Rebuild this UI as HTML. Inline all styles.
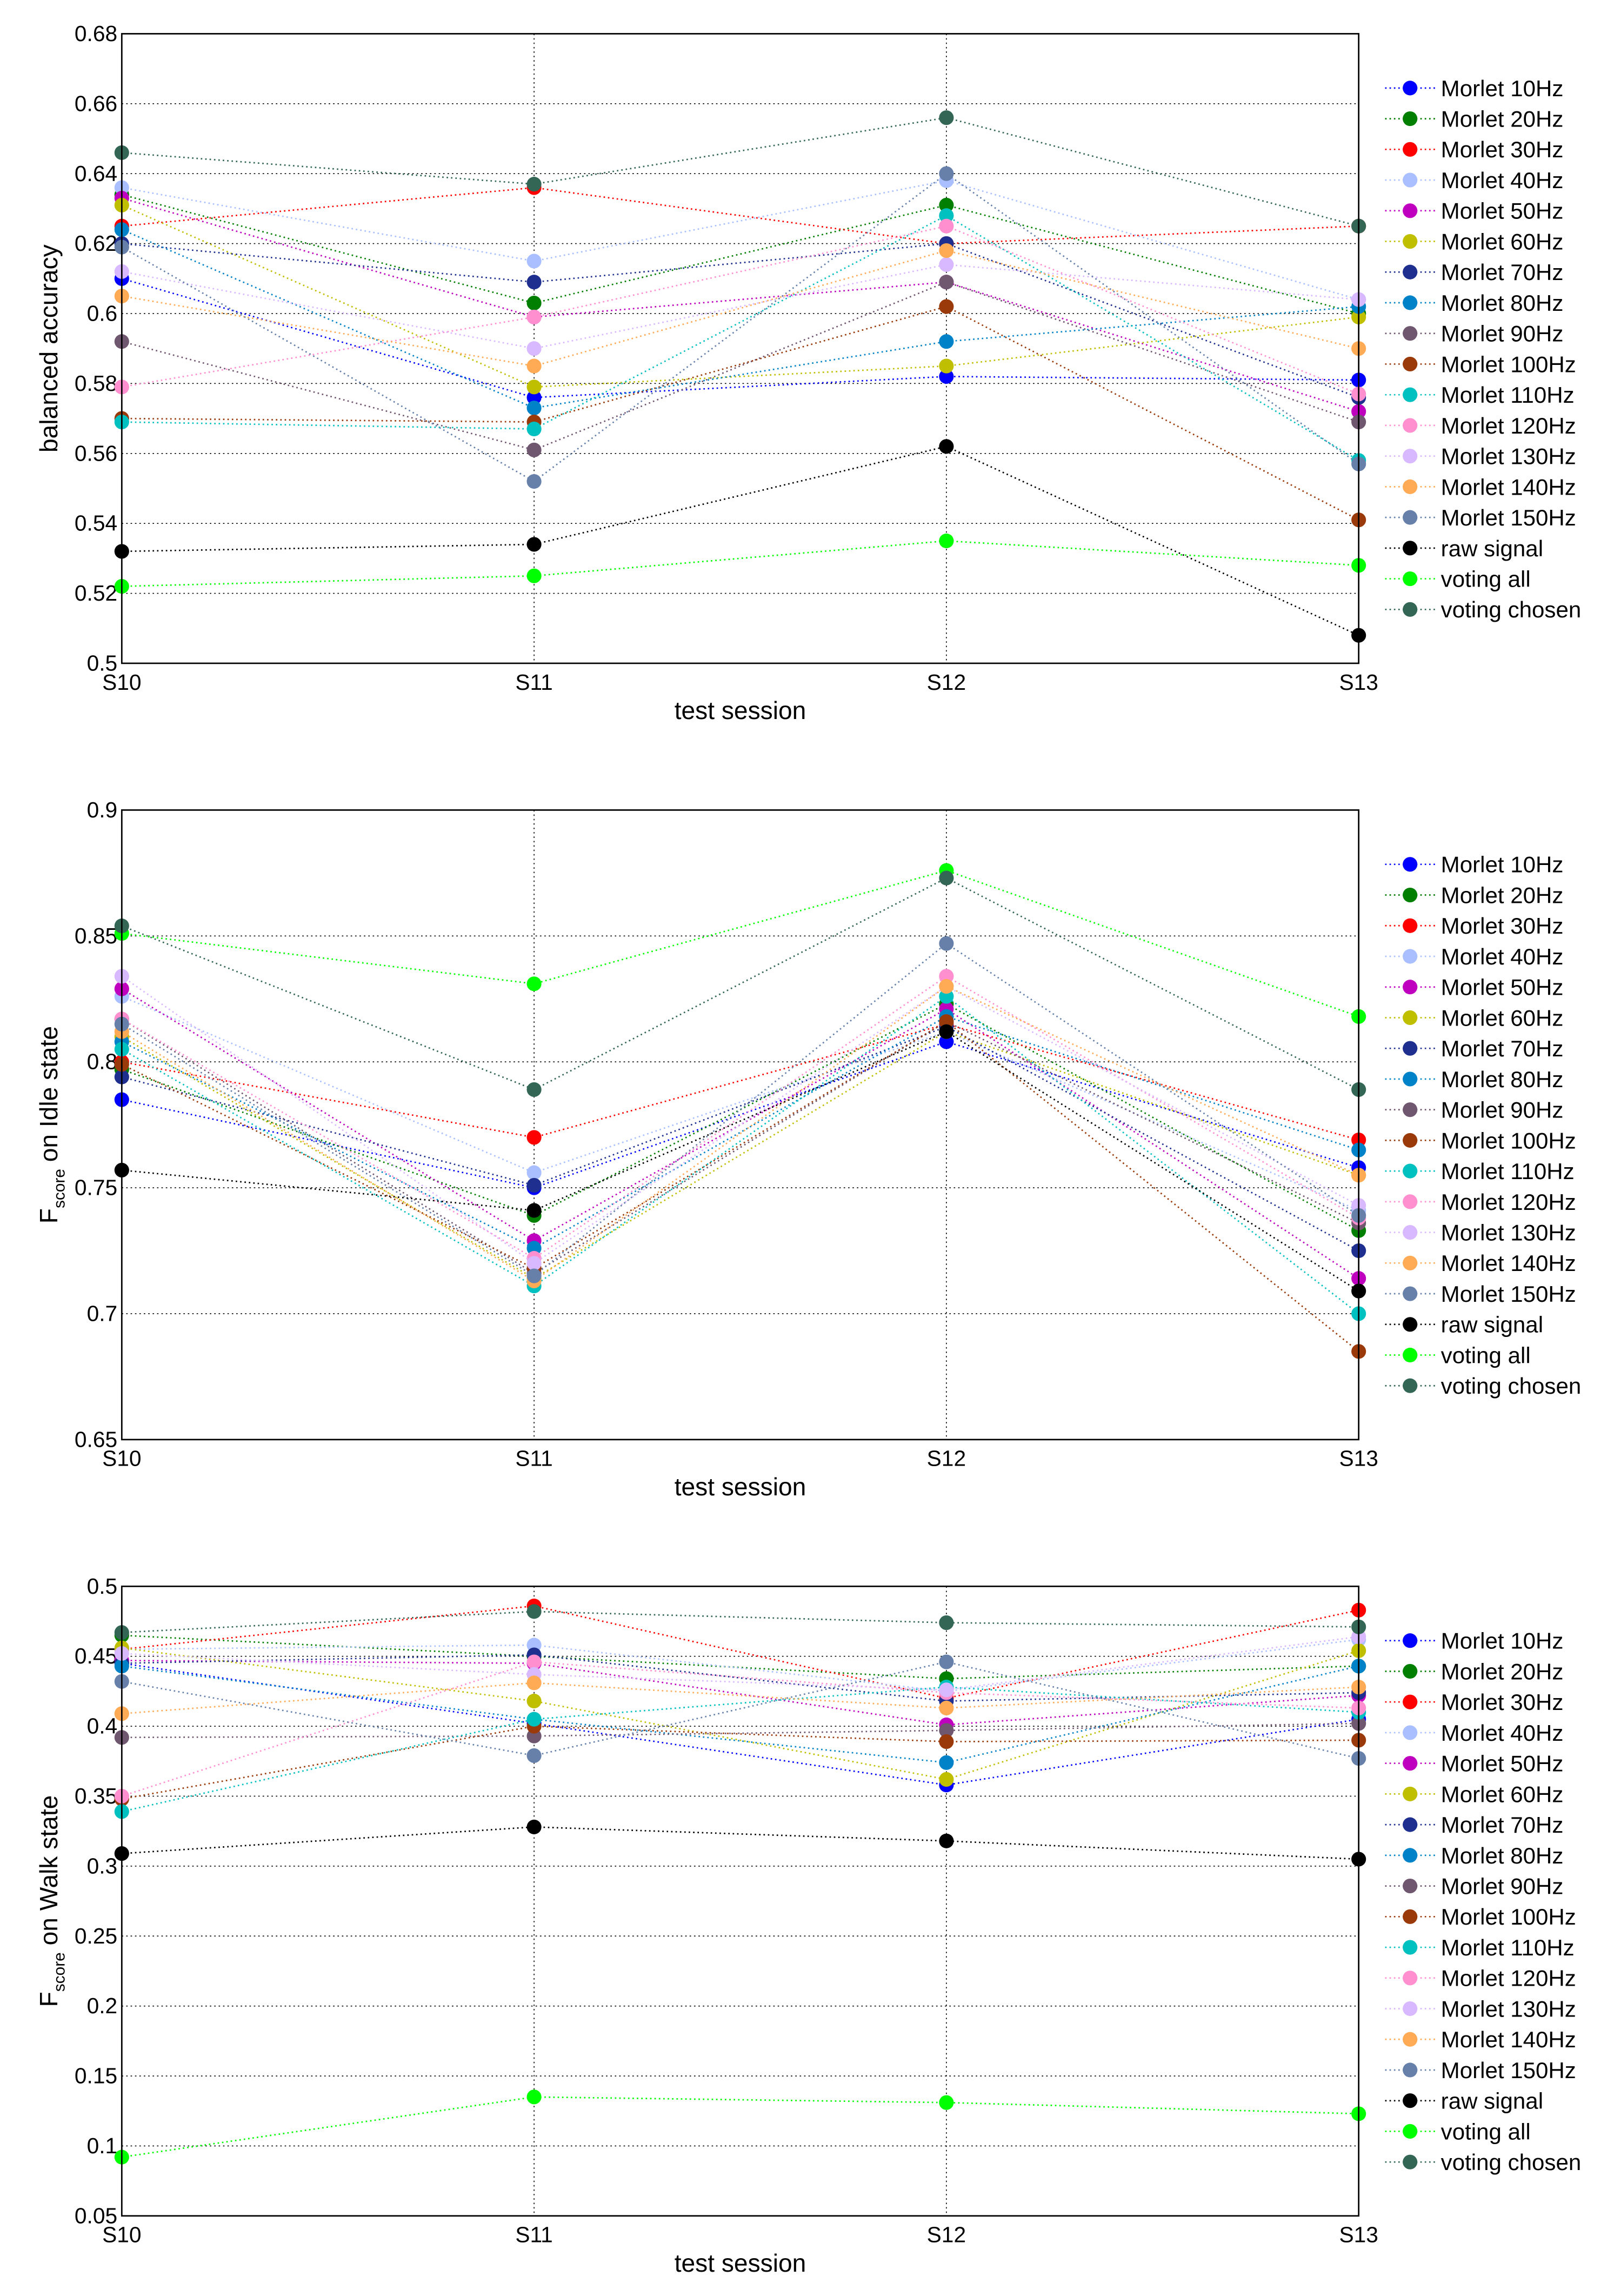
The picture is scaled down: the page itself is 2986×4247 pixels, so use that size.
<!DOCTYPE html>
<html><head><meta charset="utf-8"><style>
html,body{margin:0;padding:0;background:#fff;}
svg{display:block;font-family:"Liberation Sans",Arial,sans-serif;}
</style></head><body>
<svg id="fig" width="2986" height="4247" viewBox="0 0 1100 1564.6" preserveAspectRatio="none" xmlns="http://www.w3.org/2000/svg"></svg>
<script>
const sessions = ["S10","S11","S12","S13"];
const seriesNames = ["Morlet 10Hz","Morlet 20Hz","Morlet 30Hz","Morlet 40Hz","Morlet 50Hz","Morlet 60Hz","Morlet 70Hz","Morlet 80Hz","Morlet 90Hz","Morlet 100Hz","Morlet 110Hz","Morlet 120Hz","Morlet 130Hz","Morlet 140Hz","Morlet 150Hz","raw signal","voting all","voting chosen"];
const seriesColors = ["#0000ff","#007f00","#ff0000","#aabfff","#bf00bf","#bfbf00","#1f2f8f","#0082c8","#705770","#9a3a0a","#00c0c0","#ff8fcf","#d8b8ff","#ffaa55","#6680aa","#000000","#00ff00","#336655"];
const accTicks = [0.5,0.52,0.54,0.56,0.58,0.6,0.62,0.64,0.66,0.68];
const accValues = [
 [0.610,0.576,0.582,0.581],[0.634,0.603,0.631,0.600],[0.625,0.636,0.620,0.625],[0.636,0.615,0.638,0.604],
 [0.633,0.599,0.609,0.572],[0.631,0.579,0.585,0.599],[0.620,0.609,0.620,0.576],[0.624,0.573,0.592,0.602],
 [0.592,0.561,0.609,0.569],[0.570,0.569,0.602,0.541],[0.569,0.567,0.628,0.558],[0.579,0.599,0.625,0.577],
 [0.612,0.590,0.614,0.604],[0.605,0.585,0.618,0.590],[0.619,0.552,0.640,0.557],[0.532,0.534,0.562,0.508],
 [0.522,0.525,0.535,0.528],[0.646,0.637,0.656,0.625]];
const idleTicks = [0.65,0.7,0.75,0.8,0.85,0.9];
const idleValues = [
 [0.785,0.750,0.808,0.758],[0.797,0.739,0.823,0.733],[0.800,0.770,0.815,0.769],[0.826,0.756,0.812,0.741],
 [0.829,0.729,0.821,0.714],[0.810,0.714,0.812,0.755],[0.794,0.751,0.814,0.725],[0.808,0.726,0.818,0.765],
 [0.817,0.716,0.816,0.736],[0.799,0.718,0.816,0.685],[0.805,0.711,0.826,0.700],[0.817,0.722,0.834,0.738],
 [0.834,0.720,0.830,0.743],[0.812,0.713,0.830,0.755],[0.815,0.715,0.847,0.739],[0.757,0.741,0.812,0.709],
 [0.851,0.831,0.876,0.818],[0.854,0.789,0.873,0.789]];
const walkTicks = [0.05,0.1,0.15,0.2,0.25,0.3,0.35,0.4,0.45,0.5];
const walkValues = [
 [0.445,0.402,0.358,0.405],[0.465,0.450,0.434,0.443],[0.455,0.486,0.420,0.483],[0.455,0.458,0.425,0.462],
 [0.447,0.445,0.401,0.422],[0.456,0.418,0.362,0.454],[0.445,0.451,0.418,0.424],[0.443,0.405,0.374,0.443],
 [0.392,0.393,0.397,0.402],[0.348,0.400,0.389,0.390],[0.339,0.405,0.428,0.410],[0.350,0.446,0.424,0.413],
 [0.452,0.437,0.426,0.464],[0.409,0.431,0.413,0.428],[0.432,0.379,0.446,0.377],[0.309,0.328,0.318,0.305],
 [0.092,0.135,0.131,0.123],[0.467,0.482,0.474,0.471]];

const NS="http://www.w3.org/2000/svg";
const svg=document.getElementById('fig');
function mk(tag,attrs,parent){const e=document.createElementNS(NS,tag);for(const k in attrs)e.setAttribute(k,attrs[k]);(parent||svg).appendChild(e);return e;}
const L=83,R=926;
function fmt(v){return String(+v.toFixed(2));}

function chart(key,top,ticks,values,ylabelParts){
  const bot=top+429, ymin=ticks[0], ymax=ticks[ticks.length-1];
  const g=mk('g',{});
  
  
  const xs=i=>L+(R-L)*i/(sessions.length-1);
  const ys=v=>bot-(v-ymin)/(ymax-ymin)*(bot-top);
  // grid
  ticks.forEach(t=>{
    const y=ys(t);
    if(t!==ymin&&t!==ymax){const ln=mk('line',{x1:L,x2:R,y1:y,y2:y,stroke:'#000','stroke-width':0.6,'stroke-dasharray':'1 2'},g);
      }
    const tx=mk('text',{x:L-3,y:y+5,'text-anchor':'end','font-size':15},g);tx.textContent=fmt(t);
    
  });
  sessions.forEach((s,i)=>{
    const x=xs(i);
    if(i>0&&i<sessions.length-1){const ln=mk('line',{x1:x,x2:x,y1:top,y2:bot,stroke:'#000','stroke-width':0.6,'stroke-dasharray':'1 2'},g);
      }
    const tx=mk('text',{x:x,y:bot+18,'text-anchor':'middle','font-size':15},g);tx.textContent=s;
    
  });
  // series
  values.forEach((vals,si)=>{
    const sg=mk('g',{},g);
    
    
    const pts=vals.map((v,i)=>xs(i)+','+ys(v)).join(' ');
    mk('polyline',{points:pts,fill:'none',stroke:seriesColors[si],'stroke-width':1,'stroke-dasharray':'1 2'},sg);
    vals.forEach((v,i)=>{
      const c=mk('circle',{cx:xs(i),cy:ys(v),r:5,fill:seriesColors[si]},sg);
      
      
    });
  });
  const box=mk('rect',{x:L,y:top,width:R-L,height:bot-top,fill:'none',stroke:'#000','stroke-width':1},g);
  
  const xl=mk('text',{x:(L+R)/2,y:bot+38,'text-anchor':'middle','font-size':17},g);xl.textContent='test session';
  
  const yl=mk('text',{transform:`translate(39,${(top+bot)/2}) rotate(-90)`,'text-anchor':'middle','font-size':17},g);
  
  ylabelParts.forEach(p=>{const ts=mk('tspan',p.attrs||{},yl);ts.textContent=p.t;});
  // legend
  const lg=mk('g',{},g);
  
  seriesNames.forEach((n,si)=>{
    const y=top+37+si*20.9;
    const eg=mk('g',{},lg);
    
    
    mk('line',{x1:944,x2:979,y1:y,y2:y,stroke:seriesColors[si],'stroke-width':1,'stroke-dasharray':'1 2'},eg);
    mk('circle',{cx:961,cy:y,r:5,fill:seriesColors[si]},eg);
    const t=mk('text',{x:982,y:y+5.5,'font-size':15.5},eg);t.textContent=n;
  });
}
chart('balanced-accuracy',23,accTicks,accValues,[{t:'balanced accuracy'}]);
chart('idle-fscore',552,idleTicks,idleValues,[{t:'F'},{t:'score',attrs:{'font-size':11,dy:5}},{t:' on Idle state',attrs:{dy:-5}}]);
chart('walk-fscore',1081,walkTicks,walkValues,[{t:'F'},{t:'score',attrs:{'font-size':11,dy:5}},{t:' on Walk state',attrs:{dy:-5}}]);
</script>
</body></html>
